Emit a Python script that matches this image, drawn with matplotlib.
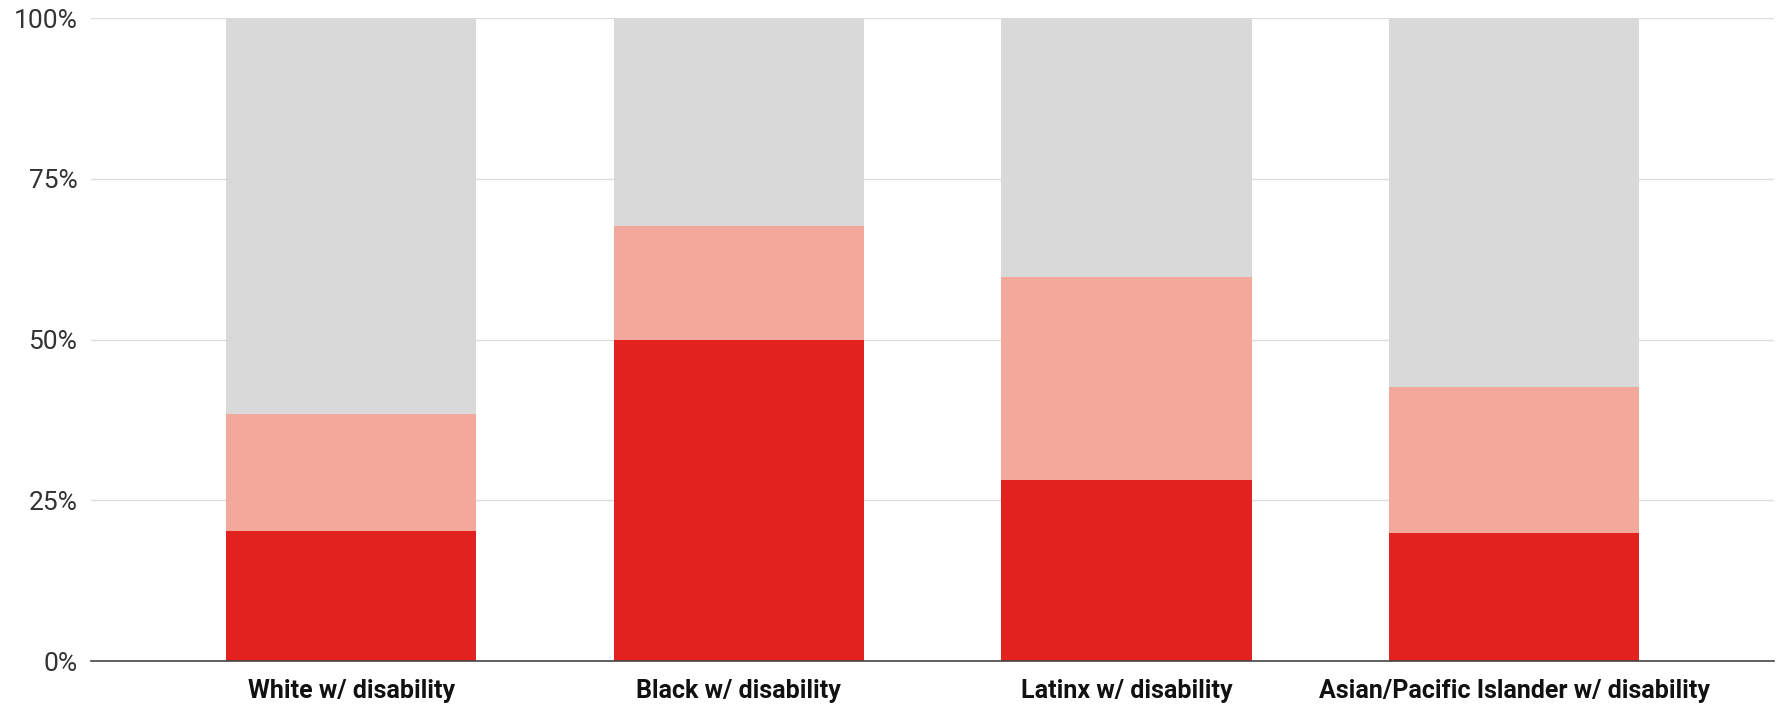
import matplotlib.pyplot as plt
from matplotlib.ticker import PercentFormatter

categories = ["White w/ disability", "Black w/ disability",
              "Latinx w/ disability", "Asian/Pacific Islander w/ disability"]
# stacked shares (percent)
dark = [20.2, 50.0, 28.2, 19.9]
light = [18.2, 17.7, 31.5, 22.7]
rest = [100 - d - l for d, l in zip(dark, light)]

plt.rcParams['font.family'] = ['Roboto', 'DejaVu Sans']

fig = plt.figure(figsize=(17.89, 7.05), dpi=100)
ax = fig.add_axes([0.051, 0.0624, 0.9406, 0.9116])

x = range(len(categories))
w = 0.645
ax.bar(x, dark, width=w, color='#e3221f', zorder=3)
ax.bar(x, light, width=w, bottom=dark, color='#f2a99c', zorder=3)
ax.bar(x, rest, width=w, bottom=[d + l for d, l in zip(dark, light)],
       color='#d9d9d9', zorder=3)

ax.set_xlim(-0.67, 3.67)
ax.set_ylim(0, 100)
ax.set_yticks([0, 25, 50, 75, 100])
ax.yaxis.set_major_formatter(PercentFormatter(decimals=0))
ax.grid(axis='y', color='#dddddd', linewidth=1, zorder=0)

ax.set_xticks(list(x))
ax.set_xticklabels(categories, fontsize=18, fontweight='bold', color='#111111')
ax.tick_params(axis='x', length=0, pad=13)
ax.tick_params(axis='y', length=0, pad=10, labelsize=19, labelcolor='#333333')

for s in ['top', 'right', 'left']:
    ax.spines[s].set_visible(False)
ax.spines['bottom'].set_color('#444444')
ax.spines['bottom'].set_linewidth(1.2)
ax.spines['bottom'].set_zorder(4)

fig.savefig('out.png', dpi=100)
